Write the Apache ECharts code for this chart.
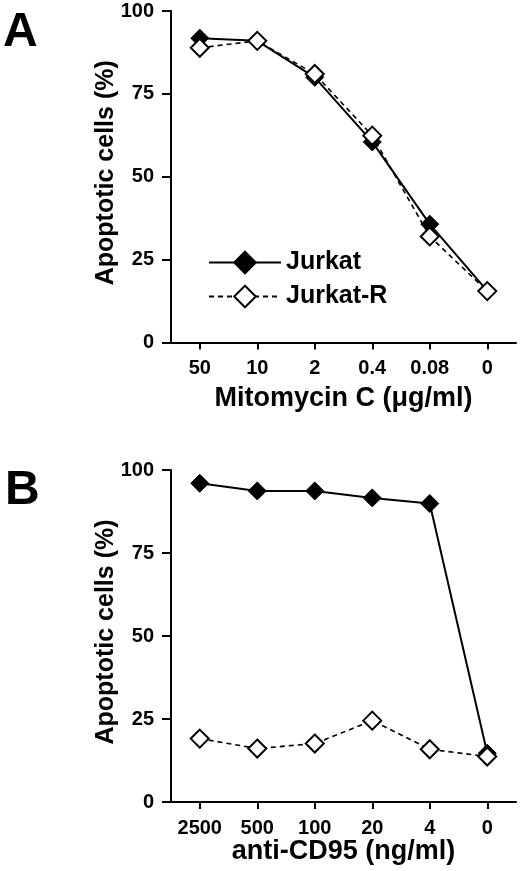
<!DOCTYPE html>
<html>
<head>
<meta charset="utf-8">
<script src="https://cdn.jsdelivr.net/npm/echarts@6/dist/echarts.min.js"></script>
<style>
html,body{margin:0;padding:0;background:#fff;}
#chart{width:520px;height:871px;}
</style>
</head>
<body>
<div id="chart"></div>
<script>
// ---- data ----
const categoriesA = ['50', '10', '2', '0.4', '0.08', '0'];
const jurkatA = [91.8, 91, 80, 60.5, 35.7, 15.6];
const jurkatRA = [88.9, 91, 81, 62.4, 32, 15.5];

const categoriesB = ['2500', '500', '100', '20', '4', '0'];
const jurkatB = [96, 93.7, 93.7, 91.6, 89.9, 14.7];
const jurkatRB = [19.1, 16.1, 17.6, 24.5, 15.9, 13.7];

const yMin = 0, yMax = 100, yInterval = 25;
const seriesNames = ['Jurkat', 'Jurkat-R'];
const xTitleA = 'Mitomycin C (\u03bcg/ml)';
const xTitleB = 'anti-CD95 (ng/ml)';
const yTitle = 'Apoptotic cells (%)';
const panelLabels = ['A', 'B'];

// ---- chart ----
const FONT = '"Liberation Sans", Arial, Helvetica, sans-serif';
const chart = echarts.init(document.getElementById('chart'), null, {renderer: 'canvas'});

function xAxis(gridIndex, cats, name, nameGap) {
  return {
    type: 'category', gridIndex: gridIndex, data: cats, boundaryGap: true,
    name: name, nameLocation: 'middle', nameGap: nameGap, nameMoveOverlap: false,
    nameTextStyle: {fontSize: 27, fontWeight: 'bold', color: '#000', fontFamily: FONT},
    axisLine: {show: true, lineStyle: {color: '#000', width: 2}},
    axisTick: {show: true, alignWithLabel: true, interval: 0, length: 7, lineStyle: {color: '#000', width: 2}},
    axisLabel: {color: '#000', fontSize: 20, fontWeight: 'bold', margin: 16, interval: 0, fontFamily: FONT},
    splitLine: {show: false}
  };
}
function yAxis(gridIndex) {
  return {
    type: 'value', gridIndex: gridIndex, min: yMin, max: yMax, interval: yInterval,
    name: yTitle, nameLocation: 'middle', nameGap: 52, nameMoveOverlap: false,
    nameTextStyle: {fontSize: 25, fontWeight: 'bold', color: '#000', fontFamily: FONT, padding: [0, 0, 0, 8]},
    axisLine: {show: true, lineStyle: {color: '#000', width: 2}},
    axisTick: {show: true, length: 9, lineStyle: {color: '#000', width: 2}},
    axisLabel: {color: '#000', fontSize: 20, fontWeight: 'bold', margin: 17, fontFamily: FONT},
    splitLine: {show: false}
  };
}
function solidSeries(name, data, idx) {
  return {
    name: name, type: 'line', xAxisIndex: idx, yAxisIndex: idx, data: data,
    symbol: 'diamond', symbolSize: 18,
    lineStyle: {color: '#000', width: 2, type: 'solid'},
    itemStyle: {color: '#000', borderColor: '#000', borderWidth: 1},
    z: 2
  };
}
function openSeries(name, data, idx) {
  return {
    name: name, type: 'line', xAxisIndex: idx, yAxisIndex: idx, data: data,
    symbol: 'diamond', symbolSize: 18,
    lineStyle: {color: '#000', width: 1.6, type: [5, 4]},
    itemStyle: {color: '#fff', borderColor: '#000', borderWidth: 2},
    z: 3
  };
}

const option = {
  animation: false,
  backgroundColor: '#fff',
  textStyle: {fontFamily: FONT},
  grid: [
    {left: 171, top: 11, width: 345, height: 331.5},
    {left: 171, top: 470, width: 345, height: 332}
  ],
  xAxis: [xAxis(0, categoriesA, xTitleA, 43), xAxis(1, categoriesB, xTitleB, 36)],
  yAxis: [yAxis(0), yAxis(1)],
  legend: {
    data: seriesNames, orient: 'vertical', left: 203, top: 245,
    itemWidth: 72, itemHeight: 27, itemGap: 9,
    textStyle: {fontSize: 25, fontWeight: 'bold', color: '#000', fontFamily: FONT, padding: [0, 0, 0, 0]},
    selectedMode: false
  },
  graphic: [
    {type: 'text', left: 3, top: 9, style: {text: panelLabels[0], font: 'bold 48px ' + FONT, fill: '#000'}},
    {type: 'text', left: 5, top: 467, style: {text: panelLabels[1], font: 'bold 48px ' + FONT, fill: '#000'}}
  ],
  series: [
    solidSeries(seriesNames[0], jurkatA, 0),
    openSeries(seriesNames[1], jurkatRA, 0),
    solidSeries(seriesNames[0], jurkatB, 1),
    openSeries(seriesNames[1], jurkatRB, 1)
  ]
};
chart.setOption(option);
</script>
</body>
</html>
